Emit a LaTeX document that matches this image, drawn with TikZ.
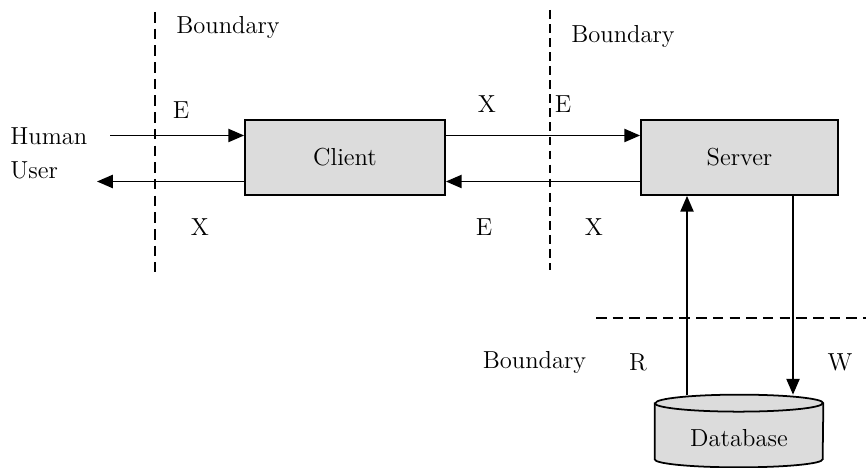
\documentclass[tikz,border=0pt]{standalone}
\usepackage{fontspec}
\usepackage{tikz}
\usetikzlibrary{arrows.meta, positioning, calc}
\definecolor{boxgray}{HTML}{DCDCDC}

\begin{document}
\begin{tikzpicture}[
  box/.style={draw, line width=1pt, fill=boxgray, minimum width=4cm, minimum height=1.5cm,
              font=\fontsize{14}{17}\selectfont},
  lbl/.style={font=\fontsize{14}{17}\selectfont, inner sep=0pt},
  arrow/.style={-{Triangle[length=9pt, width=7.5pt]}, line width=1pt},
  boundary/.style={line width=0.7pt, dash pattern=on 6pt off 3.5pt},
  dbwall/.style={draw, line width=1pt, fill=boxgray}
]
  \useasboundingbox (0,0) rectangle (17.32,9.36);

  % the two processes
  \node[box] (client) at (6.9,6.21) {Client};
  \node[box, minimum width=3.94cm] (server) at (14.79,6.21) {Server};

  % the store, drawn as a cylinder round its node
  \node[lbl, minimum width=3.36cm, minimum height=1.44cm] (db) at (14.78,0.74) {};
  \path[dbwall] ([yshift=-0.17cm]db.north west) -- ([yshift=0.16cm]db.south west)
    arc[start angle=180, end angle=360, x radius=1.68cm, y radius=0.16cm]
    -- ([yshift=-0.17cm]db.north east)
    arc[start angle=0, end angle=180, x radius=1.68cm, y radius=0.17cm] -- cycle;
  \draw[line width=1pt] ([yshift=-0.17cm]db.north west)
    arc[start angle=180, end angle=360, x radius=1.68cm, y radius=0.17cm];
  \node[lbl] at ([yshift=-0.14cm]db.center) {Database};

  % the user outside
  \node[lbl, align=left, anchor=west] (user) at (0.2,6.29) {Human\\[2pt]User};
  \coordinate (userin) at (2.2,6.65);
  \coordinate (userout) at (1.94,5.73);

  % boundaries
  \draw[boundary] (3.1,9.12) -- (3.1,3.92);
  \draw[boundary, line width=1.2pt, dash pattern=on 5pt off 3pt] (11.0,9.16) -- (11.0,3.96);
  \draw[boundary] (11.92,3.0) -- (17.32,3.0);
  \node[lbl] (bnd1) at (4.56,8.82) {Boundary};
  \node[lbl] (bnd2) at (12.46,8.64) {Boundary};
  \node[lbl] (bnd3) at (10.69,2.12) {Boundary};

  % data movements
  \draw[arrow] (userin) -- (userin -| client.west);
  \draw[arrow] (client.west |- userout) -- (userout);
  \draw[arrow] ([yshift=0.44cm]client.east) -- ([yshift=0.44cm]server.west);
  \draw[arrow] ([yshift=-0.48cm]server.west) -- ([yshift=-0.48cm]client.east);
  \draw[arrow] ([xshift=-1.04cm]db.north) -- ([xshift=-1.04cm]db.north |- server.south);
  \draw[arrow] ([xshift=1.07cm]server.south) -- ([xshift=1.07cm]server.south |- db.north);

  \node[lbl] (e1) at (3.62,7.16) {E};
  \node[lbl] (x1) at (4.0,4.82) {X};
  \node[lbl] (x2) at (9.74,7.28) {X};
  \node[lbl] (e2) at (11.26,7.28) {E};
  \node[lbl] (e3) at (9.68,4.82) {E};
  \node[lbl] (x3) at (11.88,4.82) {X};
  \node[lbl] (r1) at (12.76,2.12) {R};
  \node[lbl] (w1) at (16.8,2.12) {W};
\end{tikzpicture}
\end{document}
